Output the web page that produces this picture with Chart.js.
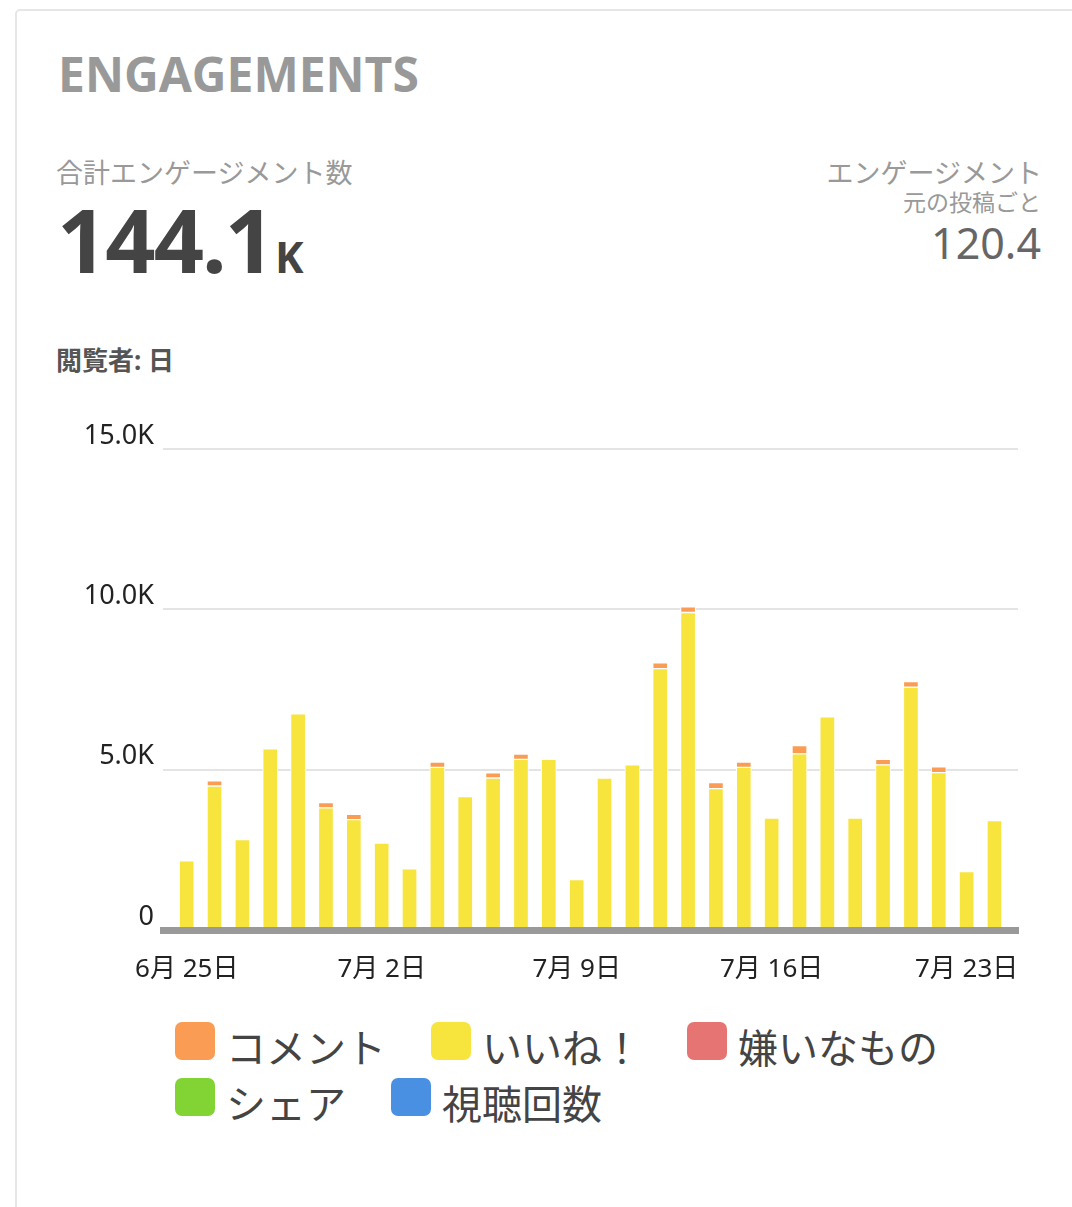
<!DOCTYPE html>
<html>
<head>
<meta charset="utf-8">
<script src="https://cdn.jsdelivr.net/npm/chart.js@4.4.1/dist/chart.umd.min.js"></script>
<style>
  html, body { margin: 0; padding: 0; background: #fff; }
  body { width: 1072px; height: 1207px; position: relative; overflow: hidden;
         font-family: "Noto Sans", "Noto Sans CJK JP", sans-serif; }
  .card { position: absolute; left: 15px; top: 9px; width: 1120px; height: 1260px;
          border: 2px solid #e6e6e6; border-radius: 5px; box-sizing: border-box; }
  .t { position: absolute; white-space: nowrap; line-height: 1; }
  #chartWrap { position: absolute; left: 0; top: 400px; width: 1072px; height: 600px; }
  #legend { position: absolute; left: 175px; top: 1022px; width: 800px;
            display: flex; flex-wrap: wrap; column-gap: 45px; row-gap: 18px; }
  .li { display: flex; align-items: center; height: 38px; }
  .sw { width: 40px; height: 38px; border-radius: 7px; margin-right: 11px; flex: none; }
  .lt { font-size: 40px; line-height: 38px; color: #444; position: relative; top: 5px;
        font-family: "Noto Sans CJK JP", sans-serif; }
</style>
</head>
<body>
<div class="card"></div>
<div class="t" style="left:58px; top:50px; font-family:'Open Sans'; font-weight:700; font-size:48px; color:#999;">ENGAGEMENTS</div>
<div class="t" style="left:56px; top:159px; font-size:27px; color:#999;">合計エンゲージメント数</div>
<div class="t" style="left:57px; top:195px; color:#444; font-weight:700;"><span style="font-size:88px; letter-spacing:-2px;">144.1</span><span style="font-size:43px; margin-left:2px;">K</span></div>
<div class="t" style="right:30px; top:159px; font-size:27px; color:#999;">エンゲージメント</div>
<div class="t" style="right:31px; top:191px; font-size:23px; color:#999;">元の投稿ごと</div>
<div class="t" style="right:31px; top:221px; font-size:43px; color:#666;">120.4</div>
<div class="t" style="left:56px; top:347px; font-size:26px; color:#555; font-weight:700;">閲覧者: 日</div>
<div id="chartWrap"><canvas id="c" width="1072" height="600"></canvas></div>
<div id="legend"></div>
<script>
// ---- data ----
const dates = ["6月 25日","6月 26日","6月 27日","6月 28日","6月 29日","6月 30日","7月 1日","7月 2日","7月 3日","7月 4日",
               "7月 5日","7月 6日","7月 7日","7月 8日","7月 9日","7月 10日","7月 11日","7月 12日","7月 13日","7月 14日",
               "7月 15日","7月 16日","7月 17日","7月 18日","7月 19日","7月 20日","7月 21日","7月 22日","7月 23日","7月 24日"];
const likes    = [2160,4490,2820,5650,6740,3810,3440,2710,1910,5070,4160,4740,5320,5320,1570,4740,5150,8150,9900,4410,5070,3490,5490,6650,3490,5150,7570,4910,1820,3410];
const comments = [0,165,0,0,0,165,165,0,0,165,0,165,165,0,0,0,0,185,175,185,165,0,260,0,0,175,175,175,0,0];
const dislikes = [0,0,0,0,0,0,0,0,0,0,0,0,0,0,0,0,0,0,0,0,0,0,0,0,0,0,0,0,0,0];
const shares   = [0,0,0,0,0,0,0,0,0,0,0,0,0,0,0,0,0,0,0,0,0,0,0,0,0,0,0,0,0,0];
const views    = [0,0,0,0,0,0,0,0,0,0,0,0,0,0,0,0,0,0,0,0,0,0,0,0,0,0,0,0,0,0];
const seriesNames = ["コメント","いいね！","嫌いなもの","シェア","視聴回数"];
const seriesColors = ["#fa9c53","#f7e43c","#e57472","#82d334","#4a90e2"];
const xTickIdx = [0,7,14,21,28];
const yTicks = [0,5000,10000,15000];

Chart.defaults.font.family = "'Noto Sans', 'Noto Sans CJK JP', sans-serif";

const toXY = arr => arr.map((v, i) => ({x: i, y: v}));
const barStyle = {barThickness: 15, borderWidth: 1, borderColor: '#ffffff', borderSkipped: false};

const datasets = [
  Object.assign({label: seriesNames[1], data: toXY(likes), backgroundColor: seriesColors[1]}, barStyle),
  Object.assign({label: seriesNames[0], data: toXY(comments), backgroundColor: seriesColors[0]}, barStyle),
  Object.assign({label: seriesNames[2], data: toXY(dislikes), backgroundColor: seriesColors[2]}, barStyle),
  Object.assign({label: seriesNames[3], data: toXY(shares), backgroundColor: seriesColors[3]}, barStyle),
  Object.assign({label: seriesNames[4], data: toXY(views), backgroundColor: seriesColors[4]}, barStyle)
];

// redraw the thick baseline above the bars, as in the reference
const axisOnTop = {
  id: 'axisOnTop',
  afterDatasetsDraw(chart) {
    const s = chart.scales.x;
    if (s && typeof s.drawBorder === 'function') s.drawBorder();
  }
};

new Chart(document.getElementById('c'), {
  type: 'bar',
  data: {datasets},
  plugins: [axisOnTop],
  options: {
    responsive: false,
    animation: false,
    devicePixelRatio: 1,
    layout: {padding: {top: 49, right: 54, bottom: 0, left: 0}},
    plugins: {legend: {display: false}, tooltip: {enabled: false}},
    scales: {
      x: {
        type: 'linear', stacked: true, offset: false,
        min: -0.851, max: 29.844,
        grid: {display: false, drawTicks: false, offset: false},
        border: {display: true, color: '#999999', width: 7},
        afterBuildTicks: s => { s.ticks = xTickIdx.map(v => ({value: v})); },
        afterFit: s => { s.height = 70; },
        ticks: {
          autoSkip: false, maxRotation: 0, padding: 24, color: '#222',
          font: {size: 26},
          callback: v => dates[v]
        }
      },
      y: {
        stacked: true, min: 0, max: 15000,
        afterBuildTicks: s => { s.ticks = yTicks.map(v => ({value: v})); },
        afterFit: s => { s.width = 163; },
        grid: {color: '#e4e4e4', lineWidth: 2, drawTicks: false},
        border: {display: false},
        ticks: {
          padding: 9, labelOffset: -13, color: '#222', font: {size: 27},
          callback: v => v === 0 ? '0' : (v / 1000).toFixed(1) + 'K'
        }
      }
    }
  }
});

// legend (HTML), in reference order
const legend = document.getElementById('legend');
seriesNames.forEach((name, i) => {
  const li = document.createElement('div'); li.className = 'li';
  const sw = document.createElement('div'); sw.className = 'sw'; sw.style.background = seriesColors[i];
  const lt = document.createElement('div'); lt.className = 'lt'; lt.textContent = name;
  li.appendChild(sw); li.appendChild(lt); legend.appendChild(li);
});
</script>
</body>
</html>
